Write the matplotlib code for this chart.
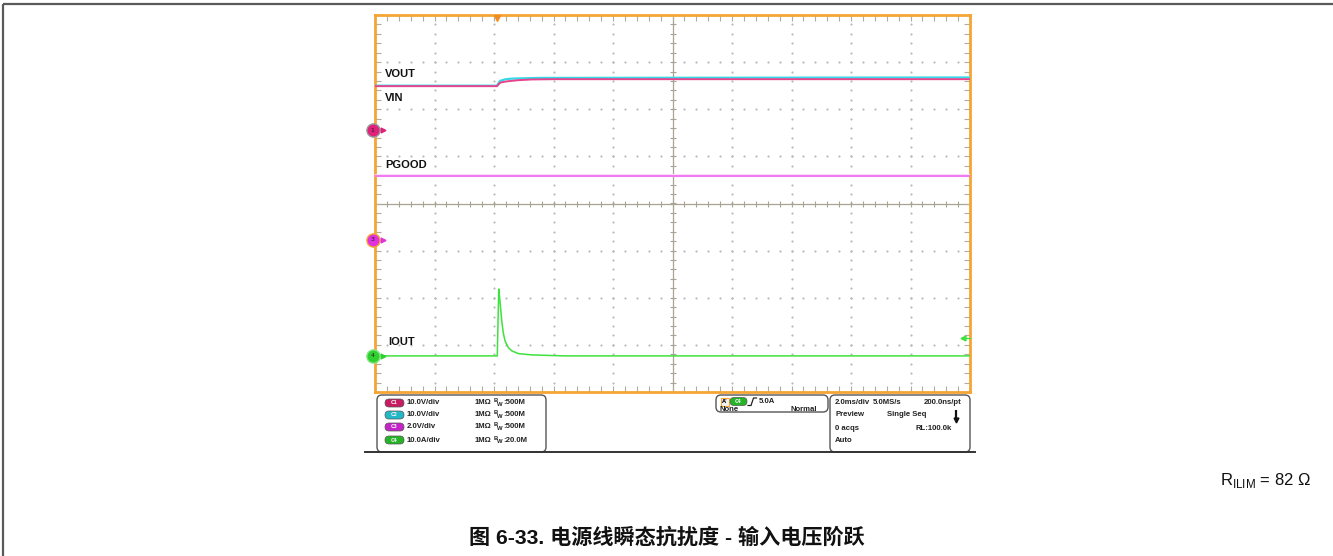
import matplotlib
matplotlib.use("Agg")
import matplotlib.pyplot as plt
from matplotlib.patches import FancyBboxPatch, Rectangle
from matplotlib.ticker import MultipleLocator
import numpy as np

# ---------------- data (time in ms, amplitude in screen divisions) ----------------
vout_t = [-10.0, -5.90, -5.80, -5.63, -5.40, -4.50, 10.0]
vout_v = [2.50, 2.50, 2.60, 2.635, 2.65, 2.665, 2.674]

vin_t = [-10.0, -5.90, -5.80, -5.74, -5.52, -5.18, -4.73, -4.00, 10.0]
vin_v = [2.49, 2.49, 2.56, 2.574, 2.595, 2.617, 2.632, 2.638, 2.638]

pgood_t = [-10.0, 10.0]
pgood_v = [0.58, 0.58]

iout_t = [-10.0, -5.89, -5.84, -5.80, -5.74, -5.69, -5.63, -5.52, -5.40, -5.18, -4.73, -3.61, 10.0]
iout_v = [-3.234, -3.234, -1.815, -2.064, -2.489, -2.738, -2.915, -3.057, -3.128, -3.185, -3.213, -3.234, -3.234]

trace_labels = ["VOUT", "VIN", "PGOOD", "IOUT"]
channel_markers = [("1", 1.55), ("3", -0.77), ("4", -3.234)]
trigger_time = -5.90
trigger_level_div = -2.85

ch_settings = ["10.0V/div", "10.0V/div", "2.0V/div", "10.0A/div"]
ch_bw = ["500M", "500M", "500M", "20.0M"]
ch_names = ["C1", "C2", "C3", "C4"]

caption = "图 6-33. 电源线瞬态抗扰度 - 输入电压阶跃"

# ---------------- colours ----------------
C_CYAN = "#36d8e8"
C_PINK = "#e8428c"
C_MAG = "#f07af0"
C_GREEN = "#3ee23e"
C_ORANGE = "#f4a534"
BADGE = ["#c81b62", "#22b8c8", "#c325c8", "#25b425"]

W, H = 1333, 556
fig = plt.figure(figsize=(W / 100, H / 100), dpi=100)
fig.patch.set_facecolor("white")

# overlay axes in pixel coordinates for frame/panels/text
ov = fig.add_axes([0, 0, 1, 1], zorder=0)
ov.set_xlim(0, W)
ov.set_ylim(H, 0)
ov.axis("off")

# outer frame (top and left)
ov.plot([3, W], [4, 4], color="#5a5a5a", lw=1.6, solid_capstyle="butt")
ov.plot([3, 3], [4, H], color="#5a5a5a", lw=1.6, solid_capstyle="butt")

# ---------------- scope grid axes ----------------
L, R, T, B = 375, 970, 15, 392
ax = fig.add_axes([L / W, 1 - B / H, (R - L) / W, (B - T) / H], zorder=2)
ax.set_xlim(-10, 10)
ax.set_ylim(-4, 4)
ax.set_facecolor("white")
for s in ax.spines.values():
    s.set_color(C_ORANGE)
    s.set_linewidth(2.0)
ax.xaxis.set_major_locator(MultipleLocator(2))
ax.xaxis.set_minor_locator(MultipleLocator(0.4))
ax.yaxis.set_major_locator(MultipleLocator(1))
ax.yaxis.set_minor_locator(MultipleLocator(0.2))
ax.tick_params(which="both", direction="in", length=4, width=0.8, color="#b0aca0",
               top=True, right=True, labelbottom=False, labelleft=False)

# dotted grid
gx, gy = [], []
for xv in [-8, -6, -4, -2, 2, 4, 6, 8]:
    for yv in np.arange(-4, 4.001, 0.2):
        gx.append(xv); gy.append(yv)
for yv in [-3, -2, -1, 1, 2, 3]:
    for xv in np.arange(-10, 10.001, 0.4):
        gx.append(xv); gy.append(yv)
ax.scatter(gx, gy, s=2.4, color="#b8b8b8", linewidths=0, zorder=1)

# centre crosshair with ticks
ax.axhline(0, color="#a8a494", lw=0.9, zorder=1)
ax.axvline(0, color="#a8a494", lw=0.9, zorder=1)
tx = np.arange(-10, 10.001, 0.4)
ty = np.arange(-4, 4.001, 0.2)
ax.plot(tx, np.zeros_like(tx), ls="none", marker="|", ms=5, mew=0.8, color="#a8a494", zorder=1)
ax.plot(np.zeros_like(ty), ty, ls="none", marker="_", ms=5, mew=0.8, color="#a8a494", zorder=1)

# traces
ax.plot(pgood_t, [v + 0.035 for v in pgood_v], color="#fbe2fb", lw=1.4, zorder=3)
ax.plot(pgood_t, pgood_v, color=C_MAG, lw=1.5, zorder=4)
ax.plot(vout_t, vout_v, color=C_CYAN, lw=1.6, zorder=4)
ax.plot(vin_t, vin_v, color=C_PINK, lw=1.4, zorder=5)
ax.plot(iout_t, iout_v, color=C_GREEN, lw=1.1, zorder=4)

# trace labels
lab_pos = [(-9.66, 2.745), (-9.66, 2.234), (-9.66, 0.81), (-9.56, -2.936)]
for txt, (x, y) in zip(trace_labels, lab_pos):
    ax.text(x, y, txt, fontsize=8, fontweight="bold", family="Liberation Sans",
            va="center", ha="left", color="#111111", zorder=6)

# channel markers on the left
mk_fill = {"1": "#e0207a", "3": "#e030e0", "4": "#30d030"}
mk_edge = {"1": "#9a9a9a", "3": C_ORANGE, "4": "#80e880"}
for num, y in channel_markers:
    ax.plot([-10.0, -9.72], [y, y], color=mk_fill[num], lw=1.0, clip_on=False, zorder=7)
    ax.plot([-9.72], [y], marker=">", ms=3.5, color=mk_fill[num], clip_on=False, zorder=7)
    ax.plot([-10.08], [y], marker="o", ms=9.5, mfc=mk_fill[num], mec=mk_edge[num], mew=1.0,
            clip_on=False, zorder=8)
    ax.text(-10.08, y, num, fontsize=4.5, color="#222222", ha="center", va="center",
            clip_on=False, zorder=9)

# trigger level arrow on right
ax.plot([9.76, 10.0], [trigger_level_div, trigger_level_div], color=C_GREEN, lw=1.0, zorder=7, clip_on=False)
ax.plot([9.76], [trigger_level_div], marker="<", ms=3.5, color=C_GREEN, zorder=7, clip_on=False)
# trigger position marker on top
ax.plot([trigger_time], [3.93], marker="v", ms=5, color="#f08c20", clip_on=False, zorder=7)

# ---------------- lower info panels ----------------
ov.plot([365, 975], [452, 452], color="#333333", lw=1.4)

def rbox(x0, y0, x1, y1, lw=1.0):
    p = FancyBboxPatch((x0, y0), x1 - x0, y1 - y0,
                       boxstyle="round,pad=0,rounding_size=5",
                       fc="white", ec="#555555", lw=lw)
    ov.add_patch(p)

rbox(377, 395, 546, 452)
rbox(716, 395, 828, 412)
rbox(830, 395, 970, 452)

fs = 5.6
fkw = dict(fontsize=fs, fontweight="bold", family="Liberation Sans", va="center", color="#222222")
rows = [403, 415, 427, 440]
for i, y in enumerate(rows):
    b = FancyBboxPatch((385, y - 4), 19, 8, boxstyle="round,pad=0,rounding_size=4",
                       fc=BADGE[i], ec="#555555", lw=0.5)
    ov.add_patch(b)
    ov.text(394.5, y, ch_names[i], fontsize=3.5, color="#eeeeee", ha="center", va="center",
            fontweight="bold")
    ov.text(407, y, ch_settings[i], ha="left", **fkw)
    ov.text(475, y, "1MΩ", ha="left", **fkw)
    ov.text(494, y - 2, "B", ha="left", fontsize=4.2, fontweight="bold", family="Liberation Sans",
            va="center", color="#222222")
    ov.text(497, y + 1.5, "W", ha="left", fontsize=4.2, fontweight="bold", family="Liberation Sans",
            va="center", color="#222222")
    ov.text(503, y, ":" + ch_bw[i], ha="left", **fkw)

# trigger panel
ov.add_patch(Rectangle((721, 397.5), 8, 8, fc="#f3f3f3", ec=C_ORANGE, lw=0.8))
ov.text(725, 401.5, "A'", fontsize=3.8, ha="center", va="center", fontweight="bold")
ov.add_patch(FancyBboxPatch((730, 397.5), 17, 8, boxstyle="round,pad=0,rounding_size=4",
                            fc=BADGE[3], ec="#555555", lw=0.5))
ov.text(738.5, 401.5, "C4", fontsize=3.5, color="#eeeeee", ha="center", va="center", fontweight="bold")
ov.plot([748, 751, 753.5, 756.5], [405.5, 405.5, 398, 398], color="#222222", lw=0.9)
ov.text(759, 401.5, "5.0A", ha="left", **fkw)
ov.text(720, 409.5, "None", ha="left", **fkw)
ov.text(817, 409.5, "Normal", ha="right", **fkw)

# timebase panel
ov.text(835, 403, "2.0ms/div", ha="left", **fkw)
ov.text(873, 403, "5.0MS/s", ha="left", **fkw)
ov.text(961, 403, "200.0ns/pt", ha="right", **fkw)
ov.text(835, 415, "Preview", ha="left", **fkw)
ov.text(887, 415, "Single Seq", ha="left", **fkw)
ov.plot([956, 956], [410, 418], color="#111111", lw=1.6, solid_capstyle="butt")
ov.plot([956], [419.5], marker="v", ms=3.5, color="#111111")
ov.text(835, 428, "0 acqs", ha="left", **fkw)
ov.text(952, 428, "RL:100.0k", ha="right", **fkw)
ov.text(835, 441, "Auto", ha="left", **fkw)

# ---------------- annotations outside the screenshot ----------------
ov.text(1311, 480, "R$_{\\mathregular{ILIM}}$ = 82 Ω", fontsize=12, family="Liberation Sans",
        ha="right", va="center", color="#111111")
ov.text(667, 537, caption, fontsize=15.2, fontweight="bold",
        family=["Liberation Sans", "Noto Sans CJK SC"], ha="center", va="center", color="#111111")

fig.savefig("out.png", dpi=100, facecolor="white")
